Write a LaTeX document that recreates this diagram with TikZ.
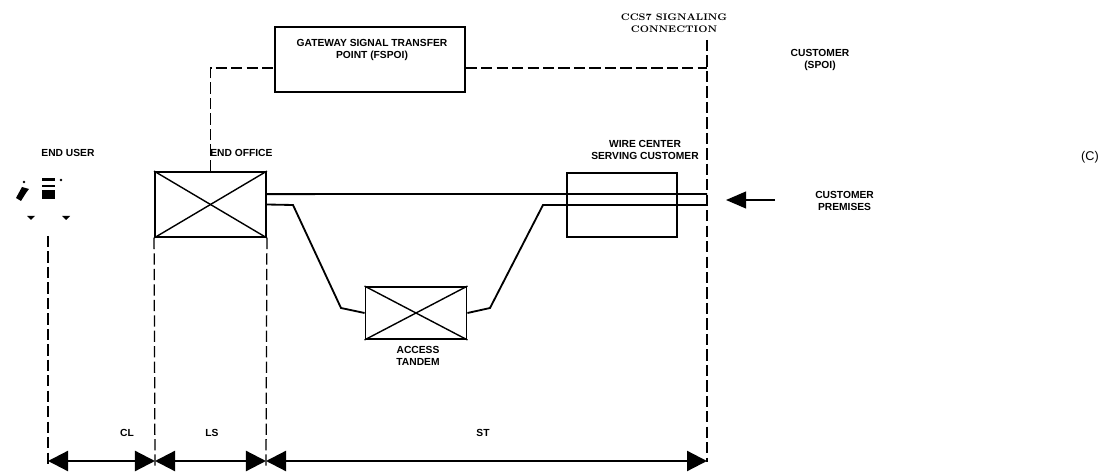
\documentclass[tikz,border=0pt]{standalone}
\usepackage{fontspec}
\setsansfont{Liberation Sans}
\usetikzlibrary{arrows.meta}

\begin{document}
\begin{tikzpicture}[
            x=0.025cm, y=-0.025cm,
            label/.style={
                font=\sffamily\bfseries\fontsize{7.3}{9}\selectfont,
                align=center,
                inner sep=0pt
            },
            xbox/.style={
                draw,
                line width=1.3pt,
                inner sep=0pt
            },
            trunk/.style={line width=1.3pt},
            sig/.style={line width=0.9pt, dash pattern=on 8pt off 3pt},
            dim/.style={
                line width=1.6pt,
                {Triangle[length=0.5cm, width=0.5cm]}-{Triangle[length=0.5cm, width=0.5cm]}
            }
        ]

            \useasboundingbox (0, 0) rectangle (1106, 472);

            % offices
            \node[xbox, minimum width=2.775cm, minimum height=1.625cm] (eo) at (210.5, 204.5) {};
            \node[xbox, minimum width=2.525cm, minimum height=1.3cm] (at) at (416, 313) {};
            \node[xbox, minimum width=2.75cm, minimum height=1.6cm] (wc) at (622, 205) {};
            \node[draw, line width=0.9pt, minimum width=4.75cm, minimum height=1.625cm] (gw) at (370, 59.5) {};
            \draw[line width=1pt] (eo.north west) -- (eo.south east);
            \draw[line width=1pt] (eo.south west) -- (eo.north east);
            \draw[line width=1pt] (at.north west) -- (at.south east);
            \draw[line width=1pt] (at.south west) -- (at.north east);

            % texts
            \node[label] (gwtext) at (372, 50) {GATEWAY SIGNAL TRANSFER\\POINT (FSPOI)};
            \node[align=center, inner sep=0pt, font=\bfseries\fontsize{6.8}{8.5}\selectfont] (ccs) at (674, 23) {CCS7 SIGNALING\\CONNECTION};
            \node[label] (spoi) at (820, 60) {CUSTOMER\\(SPOI)};
            \node[label] (enduser) at (68, 153) {END USER};
            \node[label, anchor=west] (eotext) at (210, 153) {END OFFICE};
            \node[label] (wctext) at (645, 150) {WIRE CENTER\\SERVING CUSTOMER};
            \node[label, anchor=west] (prem) at (815, 201) {CUSTOMER\\PREMISES};
            \node[label] (attext) at (418, 356) {ACCESS\\TANDEM};
            \node[font=\sffamily\fontsize{9}{10}\selectfont] (ctag) at (1090, 157) {(C)};
            \node[label] (cl) at (127, 433) {CL};
            \node[label] (ls) at (212, 433) {LS};
            \node[label] (st) at (483, 433) {ST};

            % end user set
            \fill (16, 198) -- (22, 187) -- (29, 189) -- (26, 193) -- (21, 201) -- cycle;
            \fill (24, 182) circle (1.4);
            \fill (42, 178) rectangle (55, 181);
            \fill (42, 185) rectangle (55, 187);
            \fill (42, 190) rectangle (55, 199);
            \fill (61, 180) circle (1.4);
            \fill (27, 216) -- (35, 216) -- (31, 220) -- cycle;
            \fill (62, 216) -- (70, 216) -- (66, 220) -- cycle;

            % signaling
            \coordinate (sigl) at (210.5, 68);
            \coordinate (sigr) at (707, 68);
            \coordinate (custtop) at (707, 40);
            \coordinate (custbot) at (707, 462);
            \draw[sig] (eo.north) -- (sigl) -- (gw.west |- sigl);
            \draw[sig] (gw.east |- sigr) -- (sigr);
            \draw[sig] (custtop) -- (custbot);

            % trunks
            \draw[trunk] ([yshift=0.26cm]eo.east) -- (custtop |- 0, 194);
            \draw[trunk] (eo.east) -- (293, 205) -- (341, 308) -- (at.west);
            \draw[trunk] (at.east) -- (490, 308) -- (543, 205) -- (custtop |- 0, 205);

            % customer premises
            \coordinate (arrtail) at (775, 200);
            \coordinate (arrtip) at (726, 200);
            \draw[line width=1pt, -{Triangle[length=0.5cm, width=0.42cm]}] (arrtail) -- (arrtip);

            % boundaries
            \coordinate (d0) at (48, 461);
            \coordinate (d1) at (155, 461);
            \coordinate (d2) at (266, 461);
            \coordinate (d3) at (707, 461);
            \draw[sig] (48, 236) -- (48, 468);
            \draw[sig] (eo.south west) -- (155, 468);
            \draw[sig] (eo.south east) -- (266, 468);
            \draw[dim] (d0) -- (d1);
            \draw[dim] (d1) -- (d2);
            \draw[dim] (d2) -- (d3);

        \end{tikzpicture}
\end{document}
